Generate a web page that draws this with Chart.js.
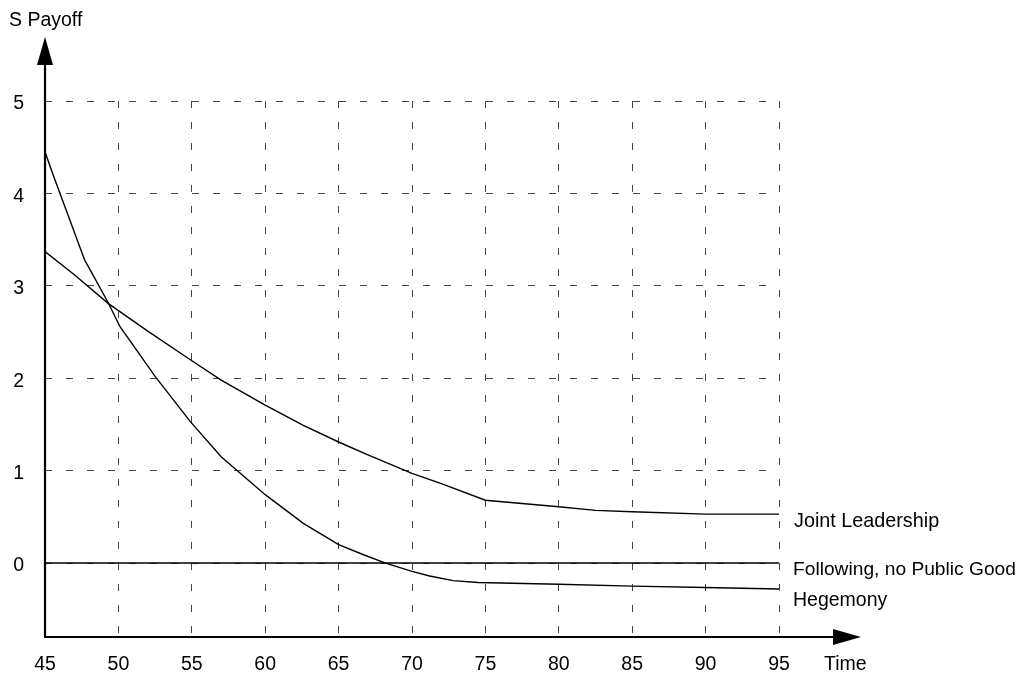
<!DOCTYPE html>
<html><head><meta charset="utf-8">
<script src="https://cdn.jsdelivr.net/npm/chart.js@4"></script>
<style>html,body{margin:0;padding:0;background:#fff}#wrap{width:1019px;height:675px}</style>
</head><body><div id="wrap"><canvas id="c" width="1019" height="675"></canvas></div>
<script>
const timeTicks = [45, 50, 55, 60, 65, 70, 75, 80, 85, 90, 95];
const payoffTicks = [0, 1, 2, 3, 4, 5];

const jointTime   = [45, 47, 49.3, 52, 54.9, 57, 60, 62.6, 65, 67, 70, 72, 75, 80, 82.5, 85, 90, 95];
const jointPayoff = [3.37, 3.12, 2.81, 2.51, 2.20, 1.98, 1.71, 1.49, 1.31, 1.17, 0.97, 0.86, 0.68, 0.61, 0.57, 0.555, 0.53, 0.53];

const hegTime   = [45, 45.6, 47.7, 49.3, 50.1, 52.5, 54.9, 57, 60, 62.6, 65, 66.7, 68.2, 70, 71.2, 72.8, 74.5, 80, 85, 90, 95];
const hegPayoff = [4.45, 4.18, 3.28, 2.82, 2.56, 2.02, 1.53, 1.15, 0.74, 0.43, 0.2, 0.09, 0.0, -0.09, -0.14, -0.19, -0.21, -0.23, -0.25, -0.265, -0.28];

const followTime   = [45, 95];
const followPayoff = [0, 0];

const seriesNames = ['Joint Leadership', 'Following, no Public Good', 'Hegemony'];
const xAxisTitle = 'Time';
const yAxisTitle = 'S Payoff';

const FONT = '"Liberation Sans", Arial, sans-serif';
const toPts = (xs, ys) => xs.map((x, i) => ({x, y: ys[i]}));

const axesPlugin = {
  id: 'axesArrows',
  afterDraw(chart) {
    const ctx = chart.ctx, a = chart.chartArea;
    const xs = chart.scales.x, ys = chart.scales.y;
    ctx.save();
    ctx.strokeStyle = '#000'; ctx.fillStyle = '#000'; ctx.lineWidth = 2.2;
    // y axis
    ctx.beginPath(); ctx.moveTo(a.left, a.bottom); ctx.lineTo(a.left, a.top - 36); ctx.stroke();
    ctx.beginPath(); ctx.moveTo(a.left, a.top - 64); ctx.lineTo(a.left - 8, a.top - 36); ctx.lineTo(a.left + 8, a.top - 36); ctx.closePath(); ctx.fill();
    // x axis
    ctx.beginPath(); ctx.moveTo(a.left - 1, a.bottom); ctx.lineTo(a.right + 55, a.bottom); ctx.stroke();
    ctx.beginPath(); ctx.moveTo(a.right + 82, a.bottom); ctx.lineTo(a.right + 54, a.bottom - 8); ctx.lineTo(a.right + 54, a.bottom + 8); ctx.closePath(); ctx.fill();
    // texts
    ctx.textBaseline = 'alphabetic'; ctx.textAlign = 'left';
    const lx = xs.getPixelForValue(95) + 15;
    ctx.font = '19.8px ' + FONT;
    ctx.fillText(seriesNames[0], lx, ys.getPixelForValue(jointPayoff[jointPayoff.length - 1]) + 12.5);
    ctx.font = '19.2px ' + FONT;
    ctx.fillText(seriesNames[1], lx - 1, ys.getPixelForValue(followPayoff[1]) + 11.5);
    ctx.font = '19.5px ' + FONT;
    ctx.fillText(seriesNames[2], lx - 1, ys.getPixelForValue(hegPayoff[hegPayoff.length - 1]) + 17);
    ctx.fillText(xAxisTitle, a.right + 45, a.bottom + 32.5);
    ctx.fillText(yAxisTitle, 9, 25.5);
    ctx.restore();
  }
};

const lineDs = (label, pts, w) => ({
  label, data: pts, borderColor: '#000', borderWidth: w, pointRadius: 0, tension: 0, fill: false
});

new Chart(document.getElementById('c'), {
  type: 'line',
  data: {
    datasets: [
      lineDs(seriesNames[0], toPts(jointTime, jointPayoff), 1.4),
      lineDs(seriesNames[1], toPts(followTime, followPayoff), 1.4),
      lineDs(seriesNames[2], toPts(hegTime, hegPayoff), 1.4)
    ]
  },
  options: {
    responsive: false,
    animation: false,
    events: [],
    layout: { padding: { left: 0, top: 101, right: 240, bottom: 0 } },
    plugins: { legend: { display: false }, tooltip: { enabled: false }, title: { display: false } },
    scales: {
      x: {
        type: 'linear', min: 45, max: 95,
        afterBuildTicks: s => { s.ticks = timeTicks.map(v => ({value: v})); },
        afterFit: s => { s.height = 38; },
        ticks: { color: '#000', font: { family: FONT, size: 19.5 }, padding: 16, maxRotation: 0, autoSkip: false },
        grid: { color: '#444', lineWidth: 1, drawTicks: false },
        border: { display: false, dash: [7, 14] }
      },
      y: {
        type: 'linear', min: -0.8, max: 5,
        afterBuildTicks: s => { s.ticks = payoffTicks.map(v => ({value: v})); },
        afterFit: s => { s.width = 45; },
        ticks: { color: '#000', font: { family: FONT, size: 19.5 }, padding: 21, labelOffset: 3 },
        grid: { color: '#444', lineWidth: 1, drawTicks: false },
        border: { display: false, dash: [7, 14] }
      }
    }
  },
  plugins: [axesPlugin]
});
</script>
</body></html>
